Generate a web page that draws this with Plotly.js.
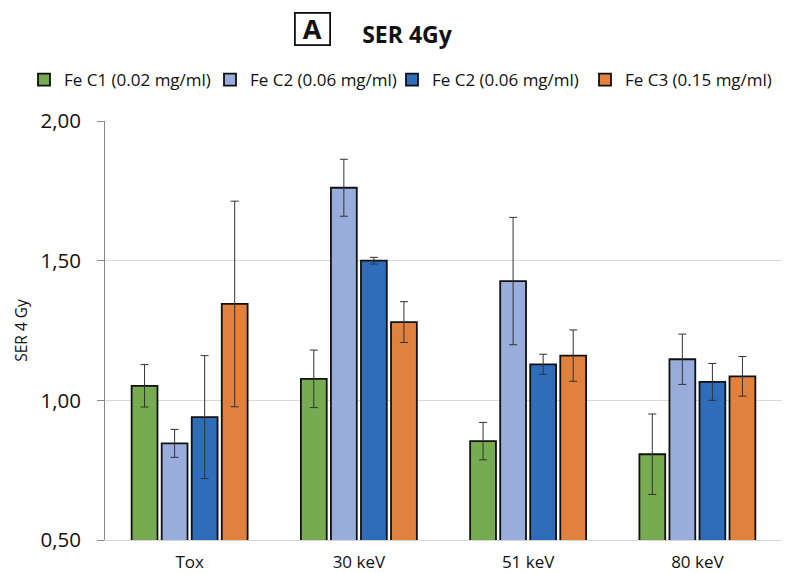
<!DOCTYPE html>
<html><head><meta charset="utf-8">
<script src="https://cdn.plot.ly/plotly-3.0.1.min.js"></script>
<style>body{margin:0;background:#fff}</style>
</head><body>
<div id="chart" style="width:798px;height:574px"></div>
<script>
const categories = ["Tox", "30 keV", "51 keV", "80 keV"];
const seriesNames = ["Fe C1 (0.02 mg/ml)", "Fe C2 (0.06 mg/ml)", "Fe C2 (0.06 mg/ml)", "Fe C3 (0.15 mg/ml)"];
const feC1 = [1.052, 1.077, 0.854, 0.807];
const feC1Err = [0.076, 0.103, 0.067, 0.144];
const feC2a = [0.846, 1.761, 1.427, 1.147];
const feC2aErr = [0.050, 0.102, 0.228, 0.090];
const feC2b = [0.940, 1.500, 1.129, 1.066];
const feC2bErr = [0.220, 0.012, 0.036, 0.066];
const feC3 = [1.345, 1.280, 1.160, 1.086];
const feC3Err = [0.368, 0.073, 0.092, 0.071];
const colors = ["#77AB51", "#98ADDB", "#2F6DBA", "#E0813F"];

const vals = [feC1, feC2a, feC2b, feC3];
const errs = [feC1Err, feC2aErr, feC2bErr, feC3Err];
const legendIds = ["legend", "legend2", "legend3", "legend4"];
const legendX = [24, 210, 392, 585];
const traces = vals.map((v, i) => ({
  type: "bar", x: categories, y: v, name: seriesNames[i], legend: legendIds[i], showlegend: true,
  marker: {color: colors[i], line: {color: "#111", width: 1.8}},
  error_y: {type: "data", array: errs[i], visible: true, color: "#333", thickness: 1, width: 4}
}));

const layout = {
  width: 798, height: 574, showlegend: true,
  margin: {l: 105, r: 16, t: 121, b: 34},
  paper_bgcolor: "#fff", plot_bgcolor: "#fff",
  font: {family: "Open Sans, sans-serif", color: "#111"},
  separators: ",.",
  barmode: "group", bargap: 0.29, bargroupgap: 0.14,
  title: {text: "<b>SER 4Gy</b>", font: {size: 23, color: "#111"}, x: 407/798, xanchor: "center", xref: "container", y: 1 - 35/574, yref: "container", yanchor: "middle"},
  annotations: [{
    text: "<b>A</b>", xref: "paper", yref: "paper", showarrow: false,
    x: (312 - 105) / 677, y: 1 + (121 - 29) / 419, xanchor: "center", yanchor: "middle",
    font: {size: 27, color: "#111"}, bordercolor: "#111", borderwidth: 1.8, borderpad: 0,
    width: 33, height: 30
  }],
  xaxis: {showline: true, linecolor: "#d9d9d9", linewidth: 1, tickfont: {size: 17}, ticks: "", showgrid: false, ticklabelstandoff: 7},
  yaxis: {range: [0.5, 2.0], dtick: 0.5, tickformat: ".2f", showgrid: true, gridcolor: "#d9d9d9", gridwidth: 1,
    showline: true, linecolor: "#888", linewidth: 1, ticks: "outside", ticklen: 7, tickcolor: "#888",
    tickfont: {size: 20.5}, zeroline: false, ticklabelstandoff: 12,
    title: {text: "SER 4 Gy", font: {size: 15.5}, standoff: 8}}
};
legendIds.forEach((id, i) => {
  layout[id] = {orientation: "h", xref: "container", yref: "container", x: legendX[i]/798, y: 1 - 80/574,
    xanchor: "left", yanchor: "middle", font: {size: 17}, itemwidth: 30, bgcolor: "rgba(0,0,0,0)", visible: true};
});
Plotly.newPlot("chart", traces, layout, {displayModeBar: false});
</script>
</body></html>
